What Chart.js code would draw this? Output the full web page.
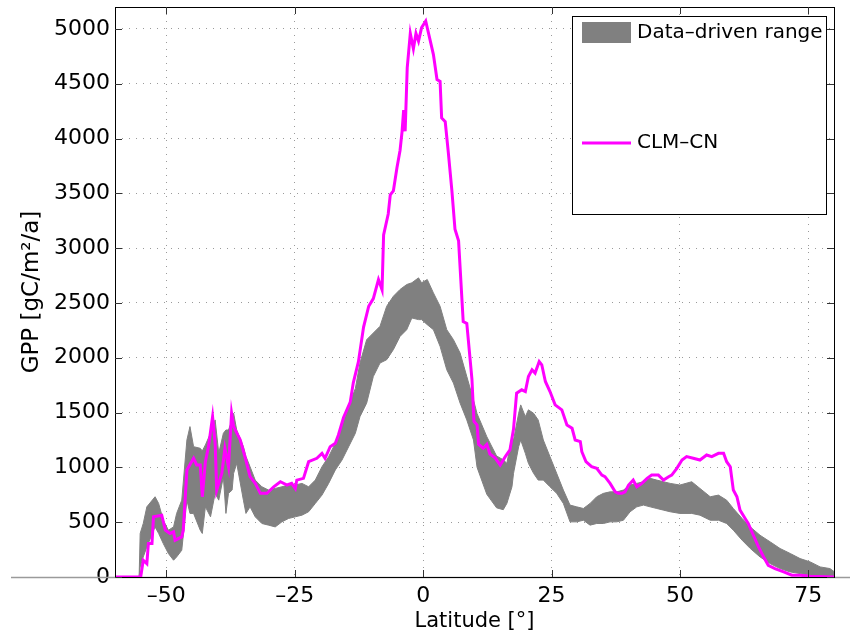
<!DOCTYPE html>
<html>
<head>
<meta charset="utf-8">
<script src="https://cdn.jsdelivr.net/npm/chart.js@4.4.1/dist/chart.umd.min.js"></script>
<style>
html, body { margin: 0; padding: 0; background: #fff; }
#wrap { width: 850px; height: 636px; }
</style>
</head>
<body>
<div id="wrap"><canvas id="gpp-chart" width="850" height="636"></canvas></div>
<script>
/*************************  Data  *************************/
// CLM-CN zonal mean GPP (gC/m2/a) by latitude
var latClm = [-60, -55, -54.5, -53.8, -53.5, -52.8, -52.5, -50.9, -50.2, -49.3, -48.6, -48.3, -47.0, -46.7, -46.0,
    -44.7, -44.1, -43.4, -43.0, -42.4, -41.8, -41.0, -40.5, -40.2, -39.2, -38.6, -37.9, -37.3, -36.9, -35.6,
    -34.7, -33.7, -32.7, -31.7, -30.4, -29.1, -27.8, -26.5, -25.6, -24.9, -24.6, -23.3, -22.3, -20.7, -19.7,
    -19.1, -18.1, -17.1, -16.5, -15.5, -14.2, -13.6, -12.6, -11.6, -10.6, -9.7, -8.7, -8.0, -7.7, -6.8,
    -6.4, -5.8, -5.1, -4.5, -4.1, -3.8, -3.5, -3.1, -2.5, -1.9, -1.4, -0.9, -0.3, 0.5, 1.4,
    2.0, 2.7, 3.3, 3.6, 4.3, 4.9, 5.6, 6.2, 6.9, 7.8, 8.5, 9.5, 9.9, 10.5, 10.8,
    11.7, 12.4, 13.0, 14.0, 15.0, 16.0, 16.9, 17.6, 18.2, 19.2, 19.9, 20.5, 21.2, 21.8, 22.6,
    23.1, 23.8, 24.7, 25.7, 27.0, 28.0, 29.0, 29.6, 30.6, 30.9, 31.7, 32.8, 33.8, 34.8, 35.4,
    36.4, 37.4, 38.0, 38.7, 39.3, 40.0, 40.9, 41.6, 42.6, 43.6, 44.5, 45.8, 46.8, 47.8, 48.4,
    49.4, 50.4, 51.3, 52.6, 53.9, 55.2, 56.2, 57.5, 58.5, 59.1, 59.8, 60.4, 61.1, 61.7, 62.7,
    63.3, 64.3, 65.3, 66.3, 67.2, 68.5, 70.2, 71.8, 73.4, 75.4, 80];
var gppClm = [0, 0, 153, 122, 305, 305, 549, 564, 427, 397, 412, 336, 366, 427, 976,
    1083, 1022, 1022, 732, 1052, 1189, 1463, 1220, 793, 946, 1174, 1006, 1494, 1372, 1250,
    1098, 915, 854, 763, 763, 823, 869, 839, 854, 808, 884, 900, 1052, 1083, 1128,
    1083, 1189, 1220, 1296, 1455, 1595, 1771, 1964, 2280, 2470, 2540, 2714, 2620, 3120, 3312,
    3487, 3522, 3733, 3891, 4066, 4259, 4066, 4644, 4959, 4819, 4959, 4889, 5012, 5072, 4889,
    4766, 4538, 4521, 4188, 4153, 3873, 3522, 3172, 3067, 2331, 2313, 1806, 1420, 1385, 1210,
    1175, 1210, 1122, 1087, 1022, 1098, 1159, 1350, 1677, 1708, 1692, 1829, 1891, 1860, 1966,
    1936, 1784, 1692, 1570, 1525, 1387, 1357, 1250, 1235, 1143, 1052, 1006, 991, 930, 915,
    854, 777, 763, 763, 777, 839, 884, 823, 854, 900, 930, 930, 884, 915, 930,
    991, 1067, 1098, 1083, 1067, 1113, 1098, 1128, 1128, 1052, 1006, 793, 732, 610, 534,
    488, 381, 274, 183, 107, 77, 46, 16, 16, 6, 0];

// Data-driven range: lower and upper bound
var latBand = [-55.3, -55.1, -54.5, -53.8, -52.2, -51.5, -50.6, -49.6, -48.6, -48.0, -47.0, -46.0, -45.4, -44.7, -43.4,
    -43.0, -42.4, -41.4, -40.5, -39.8, -38.9, -38.4, -37.9, -37.2, -36.9, -36.3, -35.0, -34.5, -33.7, -32.7,
    -31.4, -30.1, -28.8, -27.5, -26.2, -24.9, -23.6, -22.3, -21.0, -19.7, -18.4, -17.1, -15.8, -14.5, -13.2,
    -12.3, -11.0, -9.7, -8.4, -7.1, -5.8, -4.5, -3.2, -2.2, -0.9, -0.3, 0.8, 2.0, 3.3, 4.6,
    5.9, 7.2, 8.5, 9.8, 10.5, 12.4, 14.3, 15.6, 16.3, 17.3, 17.6, 18.6, 19.0, 19.9, 20.5,
    21.5, 22.4, 23.4, 24.7, 26.0, 27.3, 28.6, 29.9, 31.2, 32.5, 33.8, 35.1, 36.4, 37.7, 39.0,
    40.3, 41.6, 42.9, 44.2, 45.5, 46.8, 48.1, 50.0, 52.3, 53.9, 55.9, 57.5, 59.1, 60.4, 62.1,
    63.7, 65.6, 67.6, 69.5, 71.5, 73.4, 75.4, 77.3, 79.2, 80];
var bandLow = [0, 91, 183, 274, 457, 397, 305, 214, 153, 183, 244, 701, 580, 580, 427,
    397, 640, 549, 763, 701, 915, 580, 763, 793, 946, 1037, 701, 580, 640, 549,
    488, 473, 457, 503, 534, 549, 564, 595, 671, 747, 854, 976, 1067, 1189, 1311,
    1463, 1586, 1829, 1952, 1982, 2074, 2195, 2256, 2363, 2348, 2348, 2302, 2256, 2104, 1890,
    1769, 1586, 1433, 1250, 1000, 754, 631, 614, 671, 824, 946, 1189, 1250, 1128, 1037,
    946, 884, 884, 823, 763, 671, 503, 503, 518, 473, 488, 488, 503, 503, 518,
    595, 640, 656, 640, 625, 610, 595, 580, 580, 564, 518, 518, 488, 427, 336,
    260, 183, 122, 77, 46, 31, 16, 6, 0, 0];
var bandHigh = [0, 397, 488, 640, 732, 671, 518, 427, 457, 580, 701, 1250, 1372, 1189, 1174,
    1150, 1205, 1311, 1433, 1128, 1311, 1341, 1341, 1433, 1494, 1341, 1189, 1100, 1006, 884,
    823, 793, 808, 823, 839, 839, 854, 823, 884, 1006, 1098, 1220, 1372, 1560, 1720,
    1952, 2165, 2226, 2287, 2470, 2561, 2623, 2668, 2684, 2729, 2684, 2714, 2592, 2470, 2256,
    2165, 2043, 1829, 1616, 1490, 1280, 1104, 1069, 1037, 1280, 1250, 1494, 1570, 1463, 1525,
    1494, 1433, 1250, 1098, 946, 793, 656, 640, 625, 671, 732, 763, 777, 777, 793,
    839, 854, 869, 900, 884, 869, 854, 839, 869, 808, 732, 747, 701, 625, 534,
    457, 381, 320, 260, 214, 168, 137, 92, 77, 50];

var xTicks = [-50, -25, 0, 25, 50, 75];
var yTicks = [0, 500, 1000, 1500, 2000, 2500, 3000, 3500, 4000, 4500, 5000];

/***********************  Helpers  ************************/
var FONT = 'DejaVu Sans';
var GRAY = 'rgb(128,128,128)';
var MAGENTA = 'rgb(255,0,255)';

function toPoints(xs, ys) {
    var pts = [];
    for (var i = 0; i < xs.length; i++) {
        pts.push({x: xs[i], y: ys[i]});
    }
    return pts;
}

function minusLabel(v) {
    return v < 0 ? '\u2013' + Math.abs(v) : String(v);
}

// MATLAB style box, inward ticks and legend
var matlabFrame = {
    id: 'matlabFrame',
    beforeDatasetsDraw: function(chart) {
        var ctx = chart.ctx;
        var y0 = Math.round(chart.scales.y.getPixelForValue(0)) + 0.5;
        ctx.save();
        ctx.strokeStyle = '#9a9a9a';
        ctx.lineWidth = 1.5;
        ctx.beginPath();
        ctx.moveTo(11, y0);
        ctx.lineTo(chart.width, y0);
        ctx.stroke();
        ctx.restore();
    },
    afterDatasetsDraw: function(chart) {
        var ctx = chart.ctx;
        var a = chart.chartArea;
        var xs = chart.scales.x, ys = chart.scales.y;
        var tl = 7;
        ctx.save();
        ctx.strokeStyle = '#000';
        ctx.lineWidth = 1;
        ctx.strokeRect(Math.round(a.left) + 0.5, Math.round(a.top) + 0.5,
            Math.round(a.right - a.left), Math.round(a.bottom - a.top));
        ctx.strokeStyle = '#333';
        ctx.beginPath();
        xTicks.forEach(function(v) {
            var px = Math.round(xs.getPixelForValue(v)) + 0.5;
            ctx.moveTo(px, a.bottom); ctx.lineTo(px, a.bottom - tl);
            ctx.moveTo(px, a.top); ctx.lineTo(px, a.top + tl);
        });
        yTicks.forEach(function(v) {
            var py = Math.round(ys.getPixelForValue(v)) + 0.5;
            ctx.moveTo(a.left, py); ctx.lineTo(a.left + tl, py);
            ctx.moveTo(a.right, py); ctx.lineTo(a.right - tl, py);
        });
        ctx.stroke();

        // legend box
        var bx = 572, by = 16, bw = 254, bh = 198;
        ctx.fillStyle = '#fff';
        ctx.fillRect(bx, by, bw, bh);
        ctx.strokeStyle = '#000';
        ctx.strokeRect(bx + 0.5, by + 0.5, bw, bh);
        var sets = chart.data.datasets;
        ctx.fillStyle = GRAY;
        ctx.fillRect(bx + 10, by + 6, 49, 21);
        ctx.strokeStyle = MAGENTA;
        ctx.lineWidth = 3;
        ctx.beginPath();
        ctx.moveTo(bx + 10, by + 127);
        ctx.lineTo(bx + 59, by + 127);
        ctx.stroke();
        ctx.fillStyle = '#000';
        ctx.font = '20px "' + FONT + '"';
        ctx.textBaseline = 'middle';
        ctx.textAlign = 'left';
        ctx.fillText(sets[1].label, bx + 65, by + 17);
        ctx.fillText(sets[2].label, bx + 65, by + 127);
        ctx.restore();
    }
};

/*********************  Chart  **********************/
var ctx = document.getElementById('gpp-chart');
var gppChart = new Chart(ctx, {
    type: 'line',
    data: {
        datasets: [{
            label: 'low',
            data: toPoints(latBand, bandLow),
            borderColor: GRAY,
            borderWidth: 1,
            pointRadius: 0,
            fill: false,
            tension: 0,
            order: 2
        }, {
            label: 'Data\u2013driven range',
            data: toPoints(latBand, bandHigh),
            borderColor: GRAY,
            backgroundColor: GRAY,
            borderWidth: 1,
            pointRadius: 0,
            fill: '-1',
            tension: 0,
            order: 1
        }, {
            label: 'CLM\u2013CN',
            data: toPoints(latClm, gppClm),
            borderColor: MAGENTA,
            borderWidth: 3,
            pointRadius: 0,
            fill: false,
            tension: 0,
            borderJoinStyle: 'miter',
            order: 0
        }]
    },
    options: {
        responsive: false,
        animation: false,
        devicePixelRatio: 1,
        layout: { padding: { top: 7, right: 16, left: 0, bottom: 0 } },
        plugins: {
            legend: { display: false },
            tooltip: { enabled: false }
        },
        scales: {
            x: {
                type: 'linear',
                min: -60,
                max: 80,
                afterBuildTicks: function(scale) {
                    scale.ticks = xTicks.map(function(v) { return {value: v}; });
                },
                afterFit: function(scale) {
                    scale.height = 59;
                    scale.paddingLeft = 0;
                    scale.paddingRight = 0;
                },
                grid: { color: '#9a9a9a', lineWidth: 1, drawTicks: false },
                border: { display: false, dash: [1, 6] },
                ticks: {
                    padding: 6,
                    color: '#000',
                    font: { family: FONT, size: 22 },
                    maxRotation: 0,
                    callback: minusLabel
                },
                title: {
                    display: true,
                    text: 'Latitude [\u00b0]',
                    color: '#000',
                    font: { family: FONT, size: 21 },
                    padding: { top: 0, bottom: 2 }
                }
            },
            y: {
                min: 0,
                max: 5200,
                afterBuildTicks: function(scale) {
                    scale.ticks = yTicks.map(function(v) { return {value: v}; });
                },
                afterFit: function(scale) {
                    scale.width = 115;
                    scale.paddingTop = 0;
                    scale.paddingBottom = 0;
                },
                grid: { color: '#9a9a9a', lineWidth: 1, drawTicks: false },
                border: { display: false, dash: [1, 6] },
                ticks: {
                    padding: 5,
                    color: '#000',
                    font: { family: FONT, size: 22 },
                    callback: function(v) { return String(v); }
                },
                title: {
                    display: true,
                    text: 'GPP [gC/m\u00b2/a]',
                    color: '#000',
                    font: { family: FONT, size: 23 },
                    padding: { top: 18, bottom: 0 }
                }
            }
        }
    },
    plugins: [matlabFrame]
});
</script>
</body>
</html>
